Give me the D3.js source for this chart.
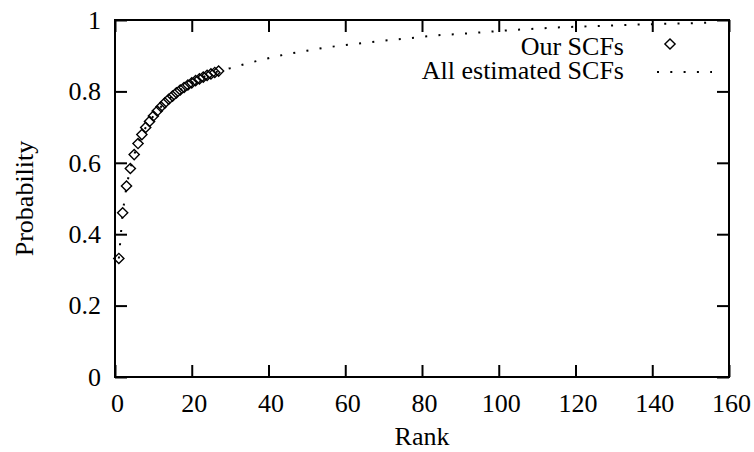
<!DOCTYPE html>
<html>
<head>
<meta charset="utf-8">
<script src="https://cdn.jsdelivr.net/npm/d3@7"></script>
<style>
  html, body { margin: 0; padding: 0; background: #fff; }
</style>
</head>
<body>
<div id="chart"></div>
<script>
// Our SCFs (diamonds), one per rank
const ourRanks = [1, 2, 3, 4, 5, 6, 7, 8, 9, 10, 11, 12, 13, 14, 15, 16, 17, 18, 19, 20, 21, 22, 23, 24, 25, 26, 27];
const ourProb = [0.332, 0.460, 0.535, 0.584, 0.623, 0.654, 0.679, 0.699, 0.716, 0.731, 0.745, 0.757, 0.768, 0.778,
  0.787, 0.796, 0.804, 0.811, 0.818, 0.824, 0.830, 0.835, 0.840, 0.845, 0.849, 0.853, 0.857];

// All estimated SCFs (dotted line)
const allRanks = [1, 2, 3, 4, 5, 6, 7, 8, 9, 10, 12, 14, 16, 18, 20, 22, 24, 27, 30, 35, 40, 45, 50, 55, 60, 65, 70,
  75, 80, 85, 90, 95, 100, 105, 110, 115, 120, 125, 130, 135, 140, 145, 150, 156];
const allProb = [0.332, 0.460, 0.535, 0.584, 0.623, 0.654, 0.679, 0.699, 0.716, 0.731, 0.757, 0.778, 0.796, 0.811,
  0.824, 0.835, 0.845, 0.857, 0.865, 0.880, 0.893, 0.905, 0.914, 0.923, 0.930, 0.936, 0.942, 0.947, 0.953, 0.958,
  0.961, 0.965, 0.969, 0.973, 0.976, 0.979, 0.981, 0.983, 0.985, 0.987, 0.988, 0.990, 0.991, 0.993];

const xTicks = [0, 20, 40, 60, 80, 100, 120, 140, 160];
const yTicks = [0, 0.2, 0.4, 0.6, 0.8, 1];
const yTickLabels = ['0', '0.2', '0.4', '0.6', '0.8', '1'];

const legendLabels = ['Our SCFs', 'All estimated SCFs'];

const width = 754;
const height = 452;
const plot = { left: 115, right: 729, top: 20, bottom: 377 };
const tickLen = 12;
const font = '"Liberation Serif"';
const fontSize = 26;
const dots = '2 11.3';

const x = d3.scaleLinear().domain([0, 160]).range([plot.left, plot.right]);
const y = d3.scaleLinear().domain([0, 1]).range([plot.bottom, plot.top]);

const svg = d3.select('#chart').append('svg')
  .attr('width', width)
  .attr('height', height);

function textStyle(sel) {
  sel.attr('font-family', font)
    .attr('font-size', fontSize)
    .attr('fill', '#000');
}

// Axes: inward ticks on all four sides
function styleAxis(g) {
  g.attr('font-family', font).attr('font-size', fontSize);
  g.select('.domain').remove();
  g.selectAll('.tick line').attr('stroke', '#000').attr('stroke-width', 2);
  g.selectAll('.tick text').call(textStyle);
}

svg.append('g')
  .attr('transform', `translate(0,${plot.bottom})`)
  .call(d3.axisBottom(x).tickValues(xTicks).tickSizeInner(-tickLen).tickSizeOuter(0).tickPadding(17))
  .call(styleAxis)
  .call(g => g.selectAll('.tick text').attr('dx', 2));

svg.append('g')
  .attr('transform', `translate(0,${plot.top})`)
  .call(d3.axisTop(x).tickValues(xTicks).tickSizeInner(-tickLen).tickSizeOuter(0).tickFormat(''))
  .call(styleAxis);

svg.append('g')
  .attr('transform', `translate(${plot.left},0)`)
  .call(d3.axisLeft(y).tickValues(yTicks).tickSizeInner(-tickLen).tickSizeOuter(0).tickPadding(14)
    .tickFormat((d, i) => yTickLabels[i]))
  .call(styleAxis);

svg.append('g')
  .attr('transform', `translate(${plot.right},0)`)
  .call(d3.axisRight(y).tickValues(yTicks).tickSizeInner(-tickLen).tickSizeOuter(0).tickFormat(''))
  .call(styleAxis);

// Border
svg.append('rect')
  .attr('x', plot.left)
  .attr('y', plot.top)
  .attr('width', plot.right - plot.left)
  .attr('height', plot.bottom - plot.top)
  .attr('fill', 'none')
  .attr('stroke', '#000')
  .attr('stroke-width', 2);

// Axis titles
svg.append('text')
  .attr('x', (plot.left + plot.right) / 2)
  .attr('y', 445)
  .attr('text-anchor', 'middle')
  .call(textStyle)
  .text('Rank');

svg.append('text')
  .attr('transform', `translate(33,${(plot.top + plot.bottom) / 2}) rotate(-90)`)
  .attr('text-anchor', 'middle')
  .call(textStyle)
  .text('Probability');

// Dotted curve
const allData = allRanks.map((r, i) => ({ r, p: allProb[i] }));
const line = d3.line().x(d => x(d.r)).y(d => y(d.p));

svg.append('path')
  .datum(allData)
  .attr('d', line)
  .attr('fill', 'none')
  .attr('stroke', '#000')
  .attr('stroke-width', 2)
  .attr('stroke-dasharray', dots);

// Diamonds
const diamond = d3.symbol().type(d3.symbolSquare).size(52);
const ourData = ourRanks.map((r, i) => ({ r, p: ourProb[i] }));

svg.append('g').selectAll('path')
  .data(ourData)
  .enter()
  .append('path')
  .attr('d', diamond)
  .attr('transform', d => `translate(${x(d.r)},${y(d.p)}) rotate(45)`)
  .attr('fill', 'none')
  .attr('stroke', '#000')
  .attr('stroke-width', 1.4);

// Legend
const legend = svg.append('g');
legend.selectAll('text')
  .data(legendLabels)
  .enter()
  .append('text')
  .attr('x', 624)
  .attr('y', (d, i) => 55 + i * 24)
  .attr('text-anchor', 'end')
  .call(textStyle)
  .text(d => d);

legend.append('path')
  .attr('d', diamond)
  .attr('transform', 'translate(670,44) rotate(45)')
  .attr('fill', 'none')
  .attr('stroke', '#000')
  .attr('stroke-width', 1.4);

legend.append('line')
  .attr('x1', 657)
  .attr('x2', 712)
  .attr('y1', 72)
  .attr('y2', 72)
  .attr('stroke', '#000')
  .attr('stroke-width', 2)
  .attr('stroke-dasharray', dots);
</script>
</body>
</html>
